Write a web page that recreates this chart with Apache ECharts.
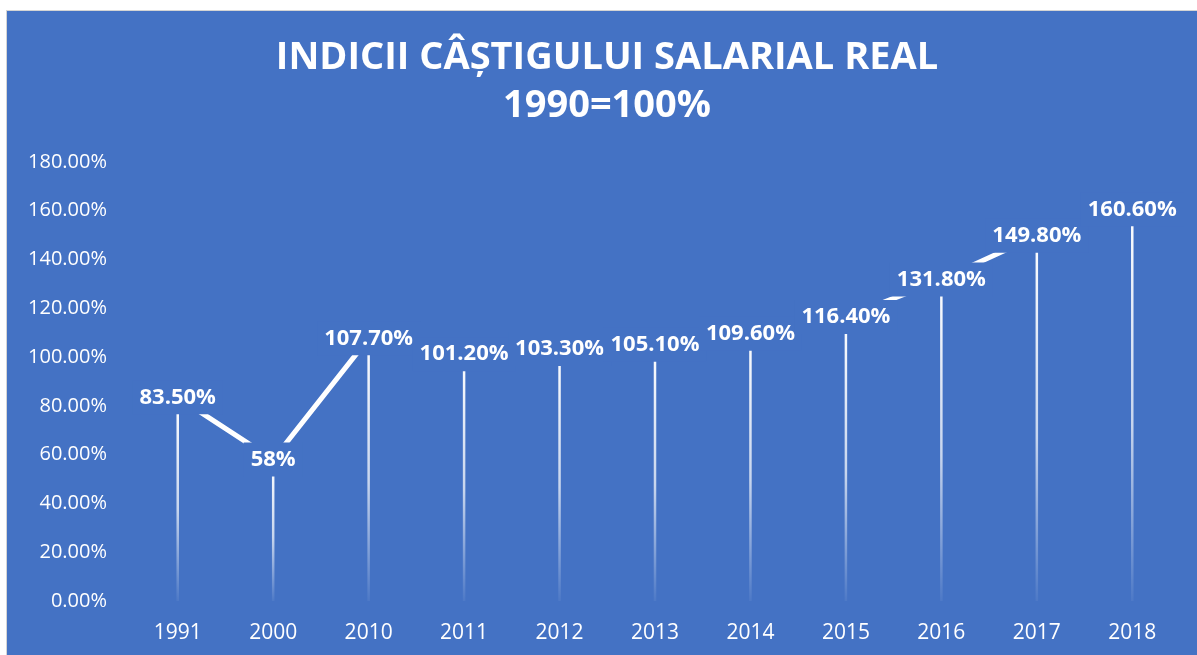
<!DOCTYPE html>
<html>
<head>
<meta charset="utf-8">
<title>Indicii câștigului salarial real</title>
<script src="https://cdn.jsdelivr.net/npm/echarts@6.0.0/dist/echarts.min.js"></script>
<style>
    html, body { margin: 0; padding: 0; background: #ffffff; overflow: hidden; }
    #frame {
        position: absolute; left: 6px; top: 10px;
        border-left: 1px solid #d4d4d4; border-top: 1px solid #d4d4d4;
    }
    #char1 { width: 1190px; height: 644px; }
</style>
</head>
<body>
<div id="frame"><div id="char1"></div></div>
<script>
// date
const years = ['1991', '2000', '2010', '2011', '2012', '2013', '2014', '2015', '2016', '2017', '2018'];
const indices = [83.5, 58, 107.7, 101.2, 103.3, 105.1, 109.6, 116.4, 131.8, 149.8, 160.6];
const valueLabels = ['83.50%', '58%', '107.70%', '101.20%', '103.30%', '105.10%', '109.60%', '116.40%', '131.80%', '149.80%', '160.60%'];
const yTicks = [0, 20, 40, 60, 80, 100, 120, 140, 160, 180];

const bgColor = '#4472C4';
const font = '"Open Sans", "Noto Sans", sans-serif';

const myChart1 = echarts.init(document.getElementById('char1'));

let option1 = {
    backgroundColor: bgColor,
    animation: false,
    title: {
        text: 'INDICII CÂȘTIGULUI SALARIAL REAL\n1990=100%',
        left: 600,
        textAlign: 'center',
        top: 23,
        padding: 0,
        textStyle: {
            color: '#ffffff',
            fontFamily: font,
            fontWeight: 'bold',
            fontSize: 38,
            lineHeight: 48
        }
    },
    grid: {
        left: 123,
        right: 17,
        top: 151,
        bottom: 54
    },
    xAxis: {
        type: 'category',
        data: years,
        axisLine: { show: false },
        axisTick: { show: false },
        axisLabel: {
            color: '#ffffff',
            fontFamily: font,
            fontSize: 21,
            margin: 22
        }
    },
    yAxis: {
        type: 'value',
        min: yTicks[0],
        max: yTicks[yTicks.length - 1],
        interval: yTicks[1] - yTicks[0],
        splitLine: { show: false },
        axisLine: { show: false },
        axisTick: { show: false },
        axisLabel: {
            color: '#ffffff',
            fontFamily: font,
            fontSize: 20,
            margin: 23,
            formatter: function(v) { return v.toFixed(2) + '%'; }
        }
    },
    series: [
        // linii verticale (drop lines)
        {
            type: 'bar',
            data: indices,
            barWidth: 2.5,
            z: 1,
            itemStyle: {
                color: new echarts.graphic.LinearGradient(0, 0, 0, 1, [
                    { offset: 0, color: 'rgba(255,255,255,1)' },
                    { offset: 0.55, color: 'rgba(255,255,255,0.7)' },
                    { offset: 1, color: 'rgba(255,255,255,0.05)' }
                ])
            }
        },
        // linia
        {
            type: 'line',
            data: indices,
            z: 3,
            symbol: 'circle',
            symbolSize: 0,
            lineStyle: { color: '#ffffff', width: 5 },
            itemStyle: { color: '#ffffff' },
            label: {
                show: true,
                position: 'inside',
                color: '#ffffff',
                fontFamily: font,
                fontWeight: 'bold',
                fontSize: 22,
                lineHeight: 24,
                padding: [5, 7],
                backgroundColor: bgColor,
                formatter: function(p) { return valueLabels[p.dataIndex]; }
            }
        }
    ]
};

myChart1.setOption(option1);
</script>
</body>
</html>
